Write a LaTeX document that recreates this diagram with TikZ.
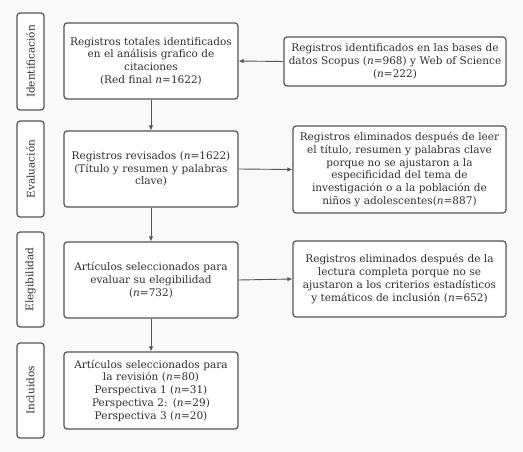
\documentclass[tikz,border=0pt]{standalone}
\usepackage{fontspec}
\setmainfont{DejaVu Serif}
\usetikzlibrary{arrows.meta}

\definecolor{linegray}{HTML}{555555}
\definecolor{textgray}{HTML}{2E2E2E}

\tikzset{
  stagebox/.style={draw=linegray, line width=1.2pt, rounded corners=3pt, fill=white,
    text=textgray, align=center, font=\fontsize{10.5}{12.7}\selectfont, inner sep=1pt},
  phase/.style={stagebox, rotate=90, minimum height=27pt},
  flow/.style={draw=linegray, line width=0.9pt, -{Latex[length=5pt,width=4.5pt]}}
}

\begin{document}
\begin{tikzpicture}[x=1pt, y=-1pt]
\useasboundingbox[fill={rgb,255:red,249;green,249;blue,249}] (0,0) rectangle (523,452);

% phases
\node[phase, minimum width=97pt] (ident) at (30.5,61.5) {Identificación};
\node[phase, minimum width=96pt] (eval) at (30.5,169) {Evaluación};
\node[phase, minimum width=95pt] (eleg) at (30.5,279.5) {Elegibilidad};
\node[phase, minimum width=95pt] (incl) at (30.5,390.5) {Incluidos};

% main column
\node[stagebox, minimum width=174pt, minimum height=76pt, text width=172pt] (total) at (151,61)
  {Registros totales identificados\\en el análisis grafico de\\citaciones\\(Red final \textit{n}=1622)};
\node[stagebox, minimum width=174pt, minimum height=76pt, text width=172pt] (revis) at (151,169)
  {Registros revisados (\textit{n}=1622)\\(Título y resumen y palabras\\clave)};
\node[stagebox, minimum width=174pt, minimum height=76pt, text width=172pt] (selec) at (151,280)
  {Artículos seleccionados para\\evaluar su elegibilidad\\(\textit{n}=732)};
\node[stagebox, minimum width=174pt, minimum height=77pt, text width=172pt] (revision) at (151,390.5)
  {Artículos seleccionados para\\la revisión (\textit{n}=80)\\Perspectiva 1 (\textit{n}=31)\\Perspectiva 2: (\textit{n}=29)\\Perspectiva 3 (\textit{n}=20)};

% side column
\node[stagebox, minimum width=222pt, minimum height=49pt, text width=220pt] (bases) at (395,61.5)
  {Registros identificados en las bases de\\datos Scopus (\textit{n}=968) y Web of Science\\(\textit{n}=222)};
\node[stagebox, minimum width=213pt, minimum height=87pt, text width=211pt] (elim1) at (399.5,169.5)
  {Registros eliminados después de leer\\el título, resumen y palabras clave\\porque no se ajustaron a la\\especificidad del tema de\\investigación o a la población de\\niños y adolescentes(\textit{n}=887)};
\node[stagebox, minimum width=213pt, minimum height=76pt, text width=211pt] (elim2) at (399.5,279)
  {Registros eliminados después de la\\lectura completa porque no se\\ajustaron a los criterios estadísticos\\y temáticos de inclusión (\textit{n}=652)};

% connectors
\draw[flow] (bases.west) -- (total.east);
\draw[flow] (total) -- (revis);
\draw[flow] (revis) -- (selec);
\draw[flow] (selec) -- (revision);
\draw[flow] (revis.east) -- (elim1.west);
\draw[flow] (selec.east) -- (elim2.west);
\end{tikzpicture}
\end{document}
